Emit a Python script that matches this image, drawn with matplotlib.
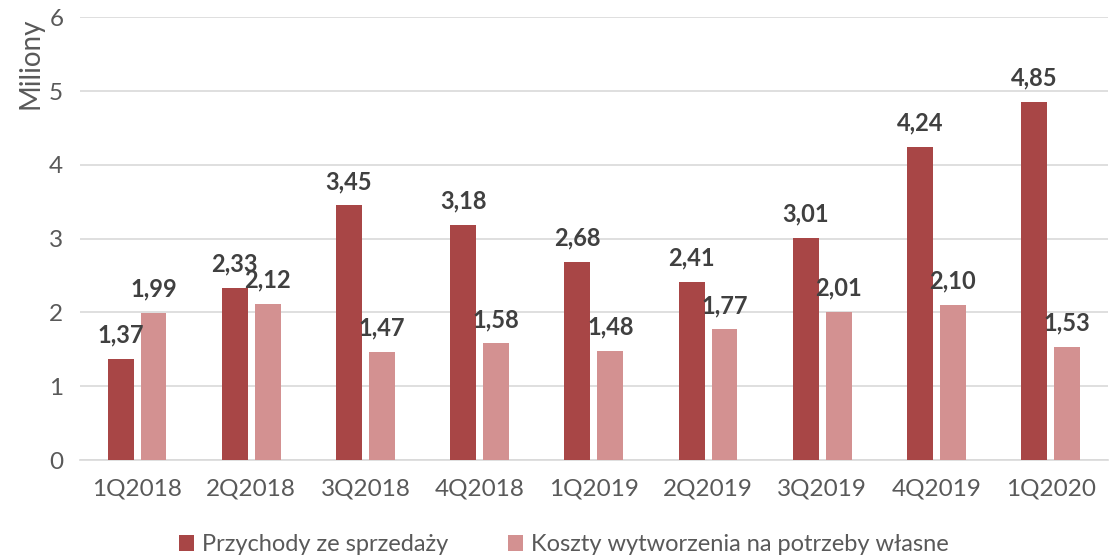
import matplotlib.pyplot as plt
import numpy as np

quarters = ["1Q2018", "2Q2018", "3Q2018", "4Q2018", "1Q2019", "2Q2019", "3Q2019", "4Q2019", "1Q2020"]
przychody = [1.37, 2.33, 3.45, 3.18, 2.68, 2.41, 3.01, 4.24, 4.85]
koszty = [1.99, 2.12, 1.47, 1.58, 1.48, 1.77, 2.01, 2.10, 1.53]
series_names = ["Przychody ze sprzedaży", "Koszty wytworzenia na potrzeby własne"]

dark = "#A84646"
light = "#D39191"
grey = "#595959"

plt.rcParams['font.family'] = ['Lato', 'DejaVu Sans']

fig = plt.figure(figsize=(11.1, 5.57), dpi=100)
ax = fig.add_axes([0.072, 0.174, 0.926, 0.795])

x = np.arange(len(quarters))
w = 0.227
off = 0.144
b1 = ax.bar(x - off, przychody, w, color=dark, label=series_names[0], zorder=3)
b2 = ax.bar(x + off, koszty, w, color=light, label=series_names[1], zorder=3)

for bars, vals in ((b1, przychody), (b2, koszty)):
    for rect, v in zip(bars, vals):
        ax.annotate(f"{v:.2f}".replace(".", ","),
                    (rect.get_x() + rect.get_width() / 2, rect.get_height()),
                    xytext=(0, 9), textcoords="offset points",
                    ha="center", va="bottom", fontsize=17, fontweight="bold",
                    color="#404040", zorder=4)

ax.set_xlim(-0.5, len(quarters) - 0.5)
ax.set_ylim(0, 6)
ax.set_yticks(range(7))
ax.set_xticks(x)
ax.set_xticklabels(quarters)
ax.tick_params(axis="both", length=0, labelsize=17.5, labelcolor=grey)
ax.tick_params(axis="x", pad=13)
ax.tick_params(axis="y", pad=12)
ax.yaxis.grid(True, color="#D9D9D9", linewidth=1.2, zorder=0)
for s in ["top", "right", "left"]:
    ax.spines[s].set_visible(False)
ax.spines["bottom"].set_color("#D9D9D9")
ax.spines["bottom"].set_linewidth(1.2)

ax.set_ylabel("Miliony", fontsize=20, color=grey, loc="top", labelpad=4)

fig.legend(loc="center", bbox_to_anchor=(0.508, 0.022), ncol=2, frameon=False,
           fontsize=17, labelcolor=grey, handlelength=0.65, handleheight=0.65,
           handletextpad=0.35, columnspacing=2.5)

fig.savefig("out.png", dpi=100)
